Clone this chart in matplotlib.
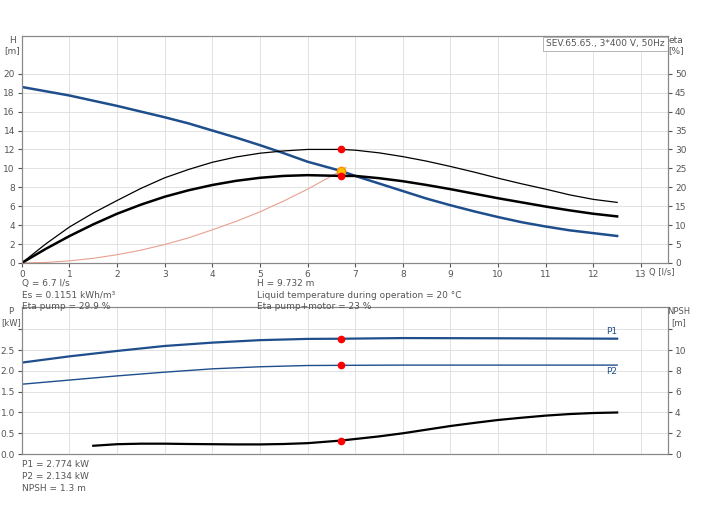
import numpy as np
import matplotlib.pyplot as plt

# Q-H curve
q_h = [0, 0.5, 1, 1.5, 2, 2.5, 3, 3.5, 4, 4.5, 5, 5.5, 6, 6.7, 7, 7.5, 8, 8.5, 9, 9.5, 10, 10.5, 11, 11.5, 12, 12.5]
h = [18.6, 18.15, 17.7, 17.15, 16.6, 16.0, 15.4, 14.75, 14.0, 13.25, 12.45, 11.6, 10.7, 9.73, 9.2, 8.4, 7.6, 6.8, 6.1, 5.45, 4.85, 4.3, 3.85, 3.45, 3.15, 2.85]
# efficiency curves [%]
q_eta = [0, 0.5, 1, 1.5, 2, 2.5, 3, 3.5, 4, 4.5, 5, 5.5, 6, 6.7, 7, 7.5, 8, 8.5, 9, 9.5, 10, 10.5, 11, 11.5, 12, 12.5]
eta_pump = [0, 5, 9.5, 13.2, 16.5, 19.7, 22.5, 24.7, 26.6, 28.0, 29.0, 29.6, 30.0, 30.0, 29.8, 29.1, 28.1, 26.9, 25.5, 24.0, 22.4, 20.9, 19.5, 18.0, 16.8, 16.0]
eta_total = [0, 3.7, 7.1, 10.2, 13.0, 15.4, 17.5, 19.2, 20.6, 21.7, 22.5, 23.0, 23.2, 23.0, 23.0, 22.4, 21.6, 20.6, 19.5, 18.3, 17.1, 16.0, 14.9, 13.9, 13.0, 12.3]
# system curve
q_sys = [0, 0.5, 1, 1.5, 2, 2.5, 3, 3.5, 4, 4.5, 5, 5.5, 6, 6.7, 6.8]
h_sys = [0, 0.05, 0.22, 0.49, 0.87, 1.35, 1.95, 2.65, 3.5, 4.4, 5.4, 6.55, 7.8, 9.73, 10.1]
# power and NPSH
q_p = [0, 1, 2, 3, 4, 5, 6, 6.7, 8, 10, 12.5]
p1 = [2.2, 2.35, 2.48, 2.6, 2.68, 2.74, 2.77, 2.774, 2.79, 2.785, 2.775]
p2 = [1.68, 1.78, 1.88, 1.97, 2.05, 2.1, 2.13, 2.134, 2.14, 2.14, 2.14]
q_npsh = [1.5, 2, 2.5, 3, 3.5, 4, 4.5, 5, 5.5, 6, 6.7, 7, 7.5, 8, 8.5, 9, 9.5, 10, 10.5, 11, 11.5, 12, 12.5]
npsh = [0.8, 0.95, 1.0, 1.0, 0.97, 0.95, 0.93, 0.93, 0.97, 1.05, 1.3, 1.45, 1.7, 2.0, 2.35, 2.7, 3.0, 3.28, 3.5, 3.7, 3.85, 3.95, 4.0]

q_op = 6.7
blue = "#1f4e8c"
grey = "#555555"
fs = 6.5

fig = plt.figure(figsize=(7.04, 5.28), dpi=100)
ax = fig.add_axes([0.031, 0.502, 0.918, 0.430])
ax2 = ax.twinx()
ax.set_xlim(0, 13.57)
ax.set_ylim(0, 24)
ax2.set_ylim(0, 60)

ax.plot(q_h, h, color=blue, lw=1.8)
ax2.plot(q_eta, eta_pump, color="black", lw=0.9)
ax2.plot(q_eta, eta_total, color="black", lw=1.8)
ax.plot(q_sys, h_sys, color="#e8a090", lw=0.8)
ax2.plot([q_op, q_op], [30.0, 23.0], "o", color="red", ms=4.5)
ax.plot(q_op, 9.73, "o", color="#ffc000", mec="#ff9000", ms=6)

ax.set_xticks(range(0, 14))
ax.set_yticks(range(0, 21, 2))
ax2.set_yticks(range(0, 51, 5))
ax.grid(color="#dddddd", lw=0.6)
for a in (ax, ax2):
    a.tick_params(labelsize=fs, colors=grey, length=3, pad=2)
    for s in a.spines.values():
        s.set_color("#888888")
ax.text(-0.015, 1.0, "H\n[m]", transform=ax.transAxes, ha="center", va="top", fontsize=fs, color=grey)
ax2.text(1.012, 1.0, "eta\n[%]", transform=ax.transAxes, ha="center", va="top", fontsize=fs, color=grey)
ax.text(0.97, -0.022, "Q [l/s]", transform=ax.transAxes, ha="left", va="top", fontsize=6, color=grey)
ax.text(0.995, 0.985, "SEV.65.65., 3*400 V, 50Hz", transform=ax.transAxes, ha="right", va="top",
        fontsize=fs, color=grey, bbox=dict(fc="white", ec="#aaaaaa", lw=0.6, pad=2))

fig.text(0.031, 0.472, "Q = 6.7 l/s\nEs = 0.1151 kWh/m³\nEta pump = 29.9 %", fontsize=fs, color=grey, va="top", linespacing=1.4)
fig.text(0.365, 0.472, "H = 9.732 m\nLiquid temperature during operation = 20 °C\nEta pump+motor = 23 %",
         fontsize=fs, color=grey, va="top", linespacing=1.4)

bx = fig.add_axes([0.031, 0.140, 0.918, 0.278])
bx2 = bx.twinx()
bx.set_xlim(0, 13.57)
bx.set_ylim(0, 3.53)
bx2.set_ylim(0, 14.12)
bx.plot(q_p, p1, color=blue, lw=1.6)
bx.plot(q_p, p2, color=blue, lw=1.0)
bx2.plot(q_npsh, npsh, color="black", lw=1.6)
bx.plot([q_op, q_op], [2.774, 2.134], "o", color="red", ms=4.5)
bx2.plot(q_op, 1.3, "o", color="red", ms=4.5)
bx.text(12.5, 2.83, "P1", fontsize=fs, color=blue, ha="right", va="bottom")
bx.text(12.5, 2.09, "P2", fontsize=fs, color=blue, ha="right", va="top")
bx.set_xticks(range(0, 14))
bx.set_xticklabels([])
bx.set_yticks([0, 0.5, 1.0, 1.5, 2.0, 2.5, 3.0])
bx.set_yticklabels(["0.0", "0.5", "1.0", "1.5", "2.0", "2.5", ""])
bx2.set_yticks(range(0, 13, 2))
bx2.set_yticklabels(["0", "2", "4", "6", "8", "10", ""])
bx.grid(color="#dddddd", lw=0.6)
for a in (bx, bx2):
    a.tick_params(labelsize=fs, colors=grey, length=3, pad=2)
    a.tick_params(axis="x", length=0)
    for s in a.spines.values():
        s.set_color("#888888")
bx.text(-0.017, 1.0, "P\n[kW]", transform=bx.transAxes, ha="center", va="top", fontsize=6, color=grey)
bx2.text(1.017, 1.0, "NPSH\n[m]", transform=bx.transAxes, ha="center", va="top", fontsize=6, color=grey)
fig.text(0.031, 0.128, "P1 = 2.774 kW\nP2 = 2.134 kW\nNPSH = 1.3 m", fontsize=fs, color=grey, va="top", linespacing=1.4)

fig.savefig("out.png", dpi=100)
